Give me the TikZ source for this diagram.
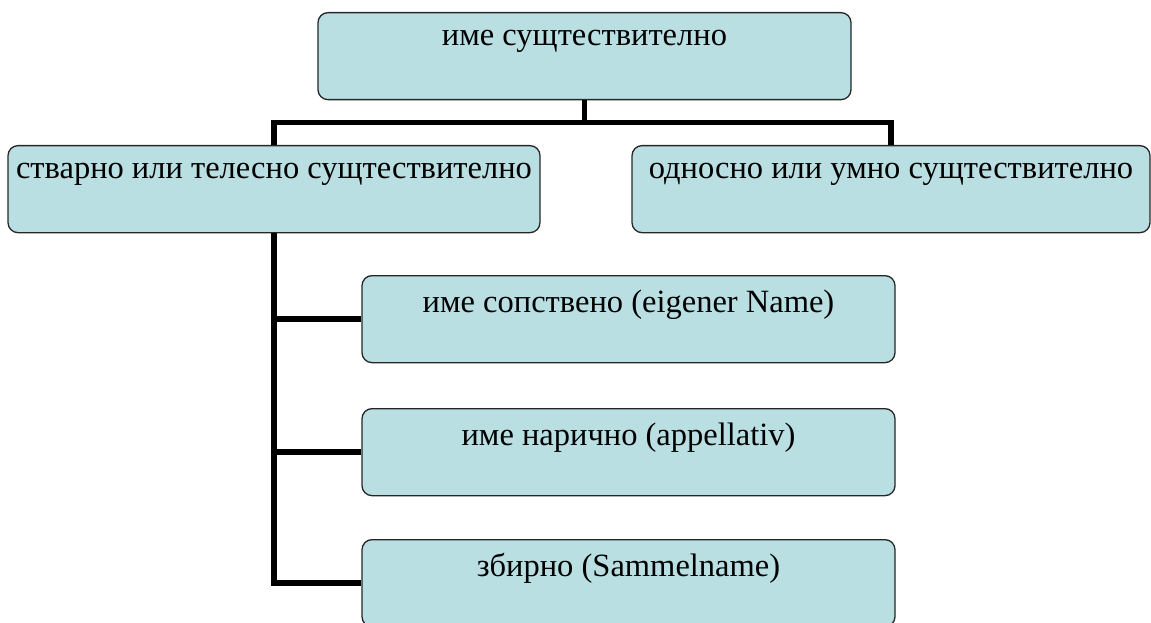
\documentclass[tikz,border=0pt]{standalone}
\usepackage{fontspec}
\setmainfont{Liberation Serif}
\definecolor{boxfill}{RGB}{185,223,227}
\begin{document}
\begin{tikzpicture}[x=1pt, y=-1pt, font=\fontsize{32.5}{38}\selectfont,
  box/.style={draw=black!85, line width=1.3pt, fill=boxfill, rounded corners=10pt, anchor=north, inner xsep=0pt, inner ysep=0pt, align=center},
  upper/.style={text height=33pt, text depth=54pt},
  lower/.style={text height=37pt, text depth=50pt},
  conn/.style={line width=5.5pt}]
\useasboundingbox (0,0) rectangle (1151,623);
\node[box, upper, minimum width=533pt] (noun) at (584.5,12) {име сущтествително};
\node[box, upper, minimum width=532pt] (concrete) at (274,145) {стварно или телесно сущтествително};
\node[box, upper, minimum width=518pt] (abstract) at (891,145) {односно или умно сущтествително};
\node[box, lower, minimum width=533pt] (proper) at (628.5,275) {име сопствено (eigener Name)};
\node[box, lower, minimum width=533pt] (common) at (628.5,408) {име нарично (appellativ)};
\node[box, lower, minimum width=533pt] (collective) at (628.5,539) {збирно (Sammelname)};
\draw[conn] (noun.south) -- ++(0,22) -| (concrete.north);
\draw[conn] (noun.south) -- ++(0,22) -| (abstract.north);
\draw[conn] (concrete.south) |- (proper.west);
\draw[conn] (concrete.south) |- (common.west);
\draw[conn] (concrete.south) |- (collective.west);
\end{tikzpicture}
\end{document}
